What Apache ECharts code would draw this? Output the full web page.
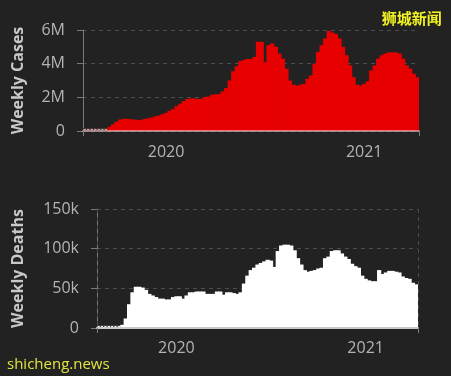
<!DOCTYPE html>
<html>
<head>
<meta charset="utf-8">
<script src="https://cdn.jsdelivr.net/npm/echarts@6/dist/echarts.min.js"></script>
<style>
html,body{margin:0;padding:0;background:#222222;}
#chart{width:451px;height:376px;}
</style>
</head>
<body>
<div id="chart"></div>
<script>
// ---- data ----
const firstWeek = '2020-01-06';
const weeklyCasesM = [
  0.01,0.01,0.01,0.01,0.02,0.02,0.03,
  0.25,0.4,0.55,0.68,0.72,0.72,0.7,0.68,0.66,0.66,
  0.72,0.76,0.8,0.88,0.92,1.0,1.08,1.2,1.3,1.48,
  1.62,1.78,1.9,1.94,1.93,1.9,1.92,2.02,2.05,2.15,
  2.18,2.2,2.35,2.55,3.0,3.55,3.85,4.15,4.22,4.28,
  4.28,4.4,5.3,5.3,4.1,5.1,5.2,5.0,4.6,4.3,
  3.7,3.0,2.75,2.7,2.75,2.8,3.1,3.3,4.0,4.7,
  5.1,5.5,5.95,5.85,5.75,5.5,5.0,4.5,3.9,3.2,
  2.75,2.7,2.8,2.95,3.6,3.9,4.3,4.5,4.6,4.67,
  4.67,4.67,4.6,4.3,3.9,3.7,3.4,3.2
];
const weeklyDeathsK = [
  0.05,0.05,0.1,0.1,0.2,0.3,0.6,
  4,12,30,45,52,52,51,48,43,41,
  39,37,37,36,36,39,40,40,37,41,
  45,45,46,46,46,43,43,43,46,46,
  42,45,45,44,43,45,56,66,73,76,
  80,82,84,86,85,77,97,104,105,105,
  104,98,88,80,73,71,72,73,75,76,
  88,90,97,98,98,94,90,87,81,78,
  76,66,62,60,59,59,73,68,70,72,
  72,71,70,65,63,62,57,55
];
const xTickLabels = ['2020', '2021'];
const xLabelWeeks = ['2020-06-15', '2021-07-12'];
const yearBoundaryWeek = '2021-01-04';
const casesTicks = [0, 2e6, 4e6, 6e6];
const deathsTicks = [0, 50000, 100000, 150000];

// ---- categories (week start dates) ----
function fmt(d){ return d.toISOString().slice(0,10); }
const weeks = weeklyCasesM.map((_, i) => {
  const d = new Date(firstWeek + 'T00:00:00Z');
  d.setUTCDate(d.getUTCDate() + 7 * i);
  return fmt(d);
});

const FONT = 'Open Sans';
const tickColor = '#b4b4b4';
const axisGray = '#7a7a7a';
const gridGray = '#4c4c4c';

function tinyStyle(base){
  return { color: base, borderColor: '#222222', borderWidth: 0.8 };
}
const casesData = weeklyCasesM.map(v => {
  const val = v * 1e6;
  return val < 60000 ? { value: val, itemStyle: tinyStyle('#d8a0a0') } : val;
});
const deathsData = weeklyDeathsK.map(v => {
  const val = v * 1000;
  return val < 1000 ? { value: val, itemStyle: tinyStyle('#eeeeee') } : val;
});

const labelIdx = xLabelWeeks.map(w => weeks.indexOf(w));
const boundaryIdx = weeks.indexOf(yearBoundaryWeek);

function xAxisFor(gridIndex, splitShow, labelMargin, lineColor){
  return {
    type: 'category', gridIndex, data: weeks, boundaryGap: true, z: 5,
    axisLine: { show: true, lineStyle: { color: lineColor, width: 2 } },
    axisTick: { show: true, length: 5, lineStyle: { color: axisGray },
      interval: (i) => i === boundaryIdx },
    axisLabel: { show: true, margin: labelMargin, color: tickColor, fontFamily: FONT, fontSize: 16,
      interval: (i) => labelIdx.indexOf(i) >= 0,
      formatter: (val, i) => { const k = labelIdx.indexOf(i); return k >= 0 ? xTickLabels[k] : ''; } },
    splitLine: { show: splitShow, interval: (i) => i === boundaryIdx,
      lineStyle: { color: gridGray, type: [4, 4] } }
  };
}

function yAxisFor(gridIndex, ticks, name, nameGap, fmtFn){
  return {
    type: 'value', gridIndex, min: ticks[0], max: ticks[ticks.length-1],
    interval: ticks[1] - ticks[0],
    name, nameLocation: 'middle', nameGap,
    nameTextStyle: { color: '#c8c8c8', fontFamily: FONT, fontSize: 16, fontWeight: 'bold' },
    axisLine: { show: true, lineStyle: { color: axisGray, width: 1 } },
    axisTick: { show: true, length: 6, lineStyle: { color: axisGray } },
    axisLabel: { color: tickColor, fontFamily: FONT, fontSize: 16, margin: 18, formatter: fmtFn },
    splitLine: { show: true, lineStyle: { color: gridGray, type: [4, 4] } }
  };
}

const chart = echarts.init(document.getElementById('chart'), null, { renderer: 'canvas' });
chart.setOption({
  backgroundColor: '#222222',
  animation: false,
  grid: [
    { left: 83, right: 32, top: 30, height: 101 },
    { left: 97, right: 33, top: 209, height: 119 }
  ],
  xAxis: [
    xAxisFor(0, false, 13, 'rgba(255,210,210,0.55)'),
    xAxisFor(1, true, 12, '#c8c8c8')
  ],
  yAxis: [
    yAxisFor(0, casesTicks, 'Weekly Cases', 57, v => v === 0 ? '0' : (v / 1e6) + 'M'),
    yAxisFor(1, deathsTicks, 'Weekly Deaths', 71, v => v === 0 ? '0' : (v / 1000) + 'k')
  ],
  series: [
    { type: 'bar', xAxisIndex: 0, yAxisIndex: 0, data: casesData, barWidth: '125%', barMinHeight: 3,
      itemStyle: { color: '#e60000' } },
    { type: 'bar', xAxisIndex: 1, yAxisIndex: 1, data: deathsData, barWidth: '125%', barMinHeight: 3,
      itemStyle: { color: '#ffffff' } }
  ],
  graphic: [
    { type: 'text', right: 9, top: 11, z: 100,
      style: { text: '狮城新闻', fill: '#f2f22a', stroke: '#333300', lineWidth: 0.5,
        font: 'bold 15px "Noto Sans CJK SC"' } },
    { type: 'text', left: 7, top: 357, z: 100,
      style: { text: 'shicheng.news', fill: '#e2e63c',
        font: '15px "Open Sans"' } }
  ]
});
</script>
</body>
</html>
